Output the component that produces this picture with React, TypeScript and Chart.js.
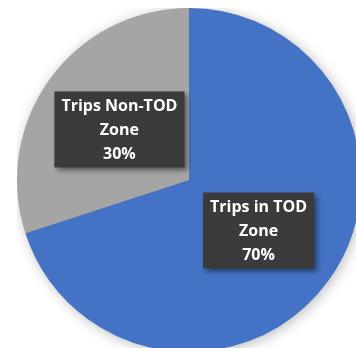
import React, { useEffect, useRef } from "react";
import { Chart, registerables } from "chart.js";

Chart.register(...registerables);

const categories = ["Trips in TOD Zone", "Trips Non-TOD Zone"];
const values = [70, 30];
const labelLines = [
  ["Trips in TOD", "Zone", "70%"],
  ["Trips Non-TOD", "Zone", "30%"],
];
const colors = ["#4472C4", "#A5A5A5"];

function makePattern(ctx: CanvasRenderingContext2D) {
  const c = document.createElement("canvas");
  c.width = 4;
  c.height = 4;
  const p = c.getContext("2d")!;
  p.fillStyle = "#393939";
  p.fillRect(0, 0, 4, 4);
  p.fillStyle = "#454545";
  p.fillRect(0, 0, 1, 1);
  p.fillRect(2, 2, 1, 1);
  return ctx.createPattern(c, "repeat");
}

const shadowPlugin = {
  id: "pieShadow",
  beforeDatasetsDraw(chart: any) {
    const ctx = chart.ctx;
    ctx.save();
    ctx.shadowColor = "rgba(0,0,0,0.3)";
    ctx.shadowBlur = 14;
    ctx.shadowOffsetX = 2;
    ctx.shadowOffsetY = 2;
    const meta = chart.getDatasetMeta(0);
    const a = meta.data[0];
    if (a) {
      ctx.beginPath();
      ctx.arc(a.x, a.y, a.outerRadius - 1, 0, Math.PI * 2);
      ctx.fillStyle = "#888";
      ctx.fill();
    }
    ctx.restore();
  },
};

const labelPlugin = {
  id: "boxLabels",
  afterDatasetsDraw(chart: any) {
    const ctx: CanvasRenderingContext2D = chart.ctx;
    const meta = chart.getDatasetMeta(0);
    const pattern = makePattern(ctx);
    meta.data.forEach((arc: any, i: number) => {
      const mid = (arc.startAngle + arc.endAngle) / 2;
      const r = arc.outerRadius * 0.5;
      const cx = arc.x + Math.cos(mid) * r;
      const cy = arc.y + Math.sin(mid) * r;
      const lines = labelLines[i];
      ctx.save();
      ctx.font = "bold 16px 'Open Sans', Lato, sans-serif";
      const w = Math.max(...lines.map((l) => ctx.measureText(l).width)) + 14;
      const lh = 24;
      const h = lines.length * lh + 4;
      ctx.shadowColor = "rgba(0,0,0,0.45)";
      ctx.shadowBlur = 5;
      ctx.shadowOffsetX = 3;
      ctx.shadowOffsetY = 3;
      ctx.fillStyle = (pattern as any) || "#3b3b3b";
      ctx.fillRect(cx - w / 2, cy - h / 2, w, h);
      ctx.shadowColor = "transparent";
      ctx.shadowBlur = 0;
      ctx.shadowOffsetX = 0;
      ctx.shadowOffsetY = 0;
      ctx.fillStyle = "#ffffff";
      ctx.textAlign = "center";
      ctx.textBaseline = "middle";
      lines.forEach((l, k) => {
        ctx.fillText(l, cx, cy - ((lines.length - 1) / 2) * lh + k * lh + 1);
      });
      ctx.restore();
    });
  },
};

export default function App() {
  const ref = useRef<HTMLCanvasElement>(null);
  useEffect(() => {
    const chart = new Chart(ref.current!, {
      type: "pie",
      data: {
        labels: categories,
        datasets: [
          {
            data: values,
            backgroundColor: colors,
            borderWidth: 0,
          },
        ],
      },
      options: {
        responsive: false,
        animation: false,
        plugins: {
          legend: { display: false },
          tooltip: { enabled: false },
        },
        layout: { padding: 0 },
      },
      plugins: [shadowPlugin, labelPlugin],
    });
    return () => chart.destroy();
  }, []);
  return (
    <div
      style={{
        position: "fixed",
        left: 0,
        top: 0,
        width: 356,
        height: 348,
        overflow: "hidden",
        background: "#ffffff",
      }}
    >
      <canvas
        ref={ref}
        width={344}
        height={344}
        style={{ position: "absolute", left: 17, top: 8, width: 344, height: 344 }}
      />
    </div>
  );
}
